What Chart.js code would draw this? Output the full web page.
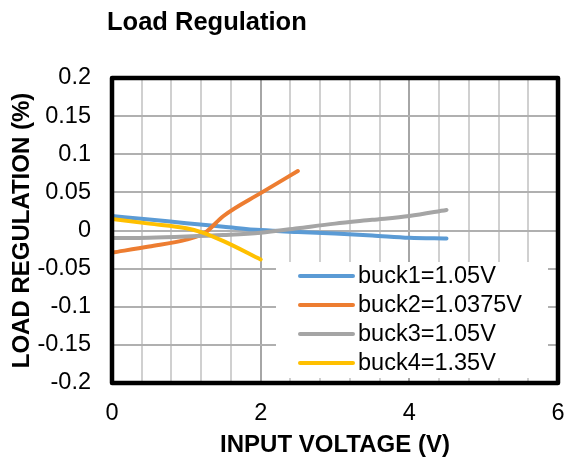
<!DOCTYPE html>
<html>
<head>
<meta charset="utf-8">
<script src="https://cdn.jsdelivr.net/npm/chart.js@4/dist/chart.umd.min.js"></script>
<style>
  html, body { margin: 0; padding: 0; background: #fff; }
  #wrap { width: 566px; height: 461px; position: relative; }
</style>
</head>
<body>
<div id="wrap"><canvas id="c" width="566" height="461"></canvas></div>
<script>
// ---- data ----
const chartTitle = 'Load Regulation';
const xTitle = 'INPUT VOLTAGE (V)';
const yTitle = 'LOAD REGULATION (%)';
const seriesNames = ['buck1=1.05V', 'buck2=1.0375V', 'buck3=1.05V', 'buck4=1.35V'];
const seriesColors = ['#5B9BD5', '#ED7D31', '#A5A5A5', '#FFC000'];

const voltages1 = [0, 0.5, 1, 1.5, 2, 2.5, 3, 3.5, 4, 4.5];
const buck1 = [0.019, 0.0145, 0.0095, 0.005, 0.0005, -0.002, -0.004, -0.0065, -0.0095, -0.0105];

const voltages2 = [0, 0.5, 1, 1.25, 1.5, 2, 2.5];
const buck2 = [-0.029, -0.021, -0.012, -0.003, 0.019, 0.049, 0.078];

const voltages3 = [0, 0.5, 1, 1.5, 2, 2.5, 3, 3.5, 4, 4.5];
const buck3 = [-0.010, -0.0095, -0.008, -0.006, -0.003, 0.003, 0.009, 0.014, 0.019, 0.027];

const voltages4 = [0, 0.5, 1, 1.2, 1.5, 2];
const buck4 = [0.015, 0.009, 0.003, -0.002, -0.014, -0.038];

const xMin = 0, xMax = 6, xLabelStep = 2, xGridStep = 0.4;
const yMin = -0.2, yMax = 0.2, yStep = 0.05;

// ---- build ----
const FONT = '"Liberation Sans", Arial, sans-serif';
Chart.defaults.font.family = FONT;
Chart.defaults.color = '#000';

function pts(xs, ys) { return xs.map((x, i) => ({ x: x, y: ys[i] })); }
const allX = [voltages1, voltages2, voltages3, voltages4];
const allY = [buck1, buck2, buck3, buck4];

const datasets = seriesNames.map((name, i) => ({
  label: name,
  data: pts(allX[i], allY[i]),
  borderColor: seriesColors[i],
  backgroundColor: seriesColors[i],
  borderWidth: 4,
  pointRadius: 0,
  order: seriesNames.length - i,
  cubicInterpolationMode: 'monotone',
  borderCapStyle: 'round',
  borderJoinStyle: 'round',
  fill: false
}));

function isMajorX(v) { return Math.abs(v / xLabelStep - Math.round(v / xLabelStep)) < 1e-6; }

const decorPlugin = {
  id: 'decor',
  afterDatasetsDraw(chart) {
    const ctx = chart.ctx;
    const a = chart.chartArea;
    ctx.save();
    // legend box
    const bx = a.left + 164, by = a.top + 184, bw = a.right - 10 - bx, bh = a.bottom - 5 - by;
    ctx.fillStyle = '#fff';
    ctx.fillRect(bx, by, bw, bh);
    ctx.font = '23.5px ' + FONT;
    ctx.textBaseline = 'middle';
    ctx.textAlign = 'left';
    chart.data.datasets.forEach((ds, i) => {
      const y = by + 14 + i * 29;
      ctx.strokeStyle = ds.borderColor;
      ctx.lineWidth = 4;
      ctx.lineCap = 'round';
      ctx.beginPath();
      ctx.moveTo(bx + 24, y);
      ctx.lineTo(bx + 77, y);
      ctx.stroke();
      ctx.fillStyle = '#000';
      ctx.fillText(ds.label, bx + 82, y + 1);
    });
    // plot border
    ctx.strokeStyle = '#000';
    ctx.lineWidth = 4.5;
    ctx.lineJoin = 'round';
    ctx.strokeRect(a.left, a.top, a.right - a.left, a.bottom - a.top);
    // chart title
    ctx.font = 'bold 25.5px ' + FONT;
    ctx.textBaseline = 'alphabetic';
    ctx.fillStyle = '#000';
    ctx.fillText(chartTitle, 107, 30);
    ctx.restore();
  }
};

new Chart(document.getElementById('c'), {
  type: 'scatter',
  data: { datasets: datasets },
  options: {
    responsive: false,
    animation: false,
    showLine: true,
    layout: { padding: { left: 0, right: 8, top: 78, bottom: 0 } },
    plugins: { legend: { display: false }, tooltip: { enabled: false }, title: { display: false } },
    scales: {
      x: {
        type: 'linear', min: xMin, max: xMax,
        afterFit(s) { s.height = 78; s.paddingLeft = 0; s.paddingRight = 0; },
        ticks: {
          stepSize: xGridStep, autoSkip: false, maxRotation: 0, padding: 16,
          font: { size: 23.5 }, color: '#000',
          callback: (v) => isMajorX(v) ? String(Math.round(v)) : ''
        },
        grid: {
          drawTicks: false,
          color: (c) => (c.tick && isMajorX(c.tick.value)) ? '#A6A6A6' : '#D0D0D0',
          lineWidth: 2
        },
        border: { display: false },
        title: { display: true, text: xTitle, font: { size: 24, weight: 'bold' }, padding: { top: 0, bottom: 1 }, color: '#000' }
      },
      y: {
        type: 'linear', min: yMin, max: yMax,
        afterFit(s) { s.width = 112; s.paddingTop = 0; s.paddingBottom = 0; },
        ticks: {
          stepSize: yStep, padding: 21, font: { size: 23.5 }, color: '#000',
          callback: (v) => String(parseFloat(Number(v).toFixed(2)))
        },
        grid: { drawTicks: false, color: '#B0B0B0', lineWidth: 2 },
        border: { display: false },
        title: { display: true, text: yTitle, font: { size: 24, weight: 'bold' }, padding: { top: 8, bottom: 0 }, color: '#000' }
      }
    }
  },
  plugins: [decorPlugin]
});
</script>
</body>
</html>
